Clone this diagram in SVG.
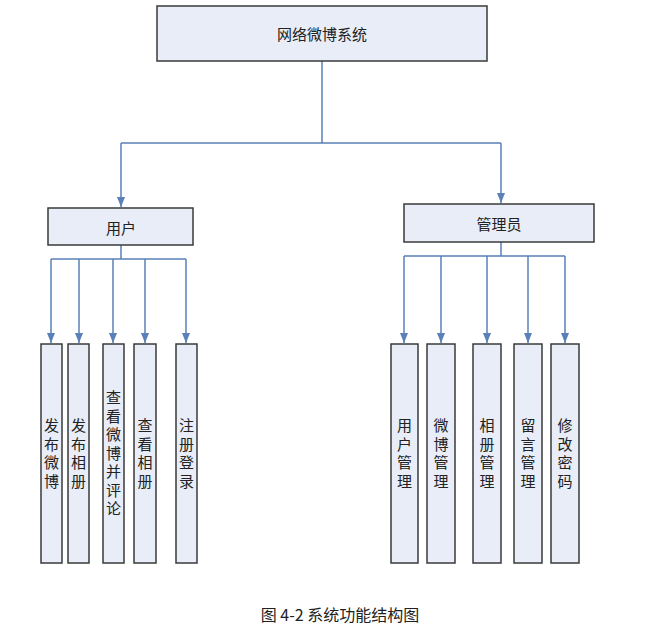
<svg xmlns="http://www.w3.org/2000/svg" width="664" height="636" viewBox="0 0 664 636">
<style>
.box{fill:#E8EDF7;stroke:#3a3a3a;stroke-width:1.5}
.lbl{font-family:"Noto Sans CJK SC","Liberation Sans",sans-serif;font-size:15px;fill:#222;text-anchor:middle;dominant-baseline:central}
.vl{font-family:"Noto Sans CJK SC","Liberation Sans",sans-serif;font-size:15px;fill:#222;text-anchor:middle;writing-mode:vertical-rl;letter-spacing:3.5px}
.con{fill:none;stroke:#5A80B8;stroke-width:1.5}
.cap{font-family:"Noto Sans CJK SC","Liberation Mono",monospace;font-size:16px;fill:#222;text-anchor:middle;dominant-baseline:central}
</style>
<defs>
<marker id="arr" markerUnits="userSpaceOnUse" markerWidth="10" markerHeight="10" viewBox="0 0 10 10" refX="10" refY="5" orient="auto">
<path d="M0,1 L10,5 L0,9 Z" fill="#5A80B8"/>
</marker>
</defs>
<rect width="664" height="636" fill="#fff"/>
<g id="connectors">
<path class="con" d="M322,61 V143 M121,143 H501"/>
<path class="con" d="M121,143 V207" marker-end="url(#arr)"/>
<path class="con" d="M501,143 V203" marker-end="url(#arr)"/>
<path class="con" d="M121,245 V259 M51,259 H186"/>
<path class="con" d="M51,259 V343" marker-end="url(#arr)"/>
<path class="con" d="M79,259 V343" marker-end="url(#arr)"/>
<path class="con" d="M113,259 V343" marker-end="url(#arr)"/>
<path class="con" d="M145,259 V343" marker-end="url(#arr)"/>
<path class="con" d="M186,259 V343" marker-end="url(#arr)"/>
<path class="con" d="M501,242 V256 M404,256 H565"/>
<path class="con" d="M404,256 V343" marker-end="url(#arr)"/>
<path class="con" d="M441,256 V343" marker-end="url(#arr)"/>
<path class="con" d="M487,256 V343" marker-end="url(#arr)"/>
<path class="con" d="M528,256 V343" marker-end="url(#arr)"/>
<path class="con" d="M565,256 V343" marker-end="url(#arr)"/>
</g>
<g id="root"><rect class="box" x="157" y="6" width="330" height="55"/><text class="lbl" x="322" y="33">网络微博系统</text></g>
<g id="user"><rect class="box" x="48" y="208" width="145" height="37"/><text class="lbl" x="121" y="227">用户</text></g>
<g id="admin"><rect class="box" x="404" y="204" width="190" height="38"/><text class="lbl" x="499" y="223">管理员</text></g>
<g id="u1"><rect class="box" x="41" y="344" width="21" height="219"/><text class="vl" x="51.5" y="455">发布微博</text></g>
<g id="u2"><rect class="box" x="68" y="344" width="21" height="219"/><text class="vl" x="78.5" y="455">发布相册</text></g>
<g id="u3"><rect class="box" x="103" y="344" width="21" height="219"/><text class="vl" x="113.5" y="455">查看微博并评论</text></g>
<g id="u4"><rect class="box" x="134" y="344" width="22" height="219"/><text class="vl" x="145" y="455">查看相册</text></g>
<g id="u5"><rect class="box" x="176" y="344" width="21" height="219"/><text class="vl" x="186.5" y="455">注册登录</text></g>
<g id="a1"><rect class="box" x="391" y="344" width="27" height="219"/><text class="vl" x="404.5" y="455">用户管理</text></g>
<g id="a2"><rect class="box" x="427" y="344" width="28" height="219"/><text class="vl" x="441" y="455">微博管理</text></g>
<g id="a3"><rect class="box" x="473" y="344" width="28" height="219"/><text class="vl" x="487" y="455">相册管理</text></g>
<g id="a4"><rect class="box" x="514" y="344" width="28" height="219"/><text class="vl" x="528" y="455">留言管理</text></g>
<g id="a5"><rect class="box" x="551" y="344" width="28" height="219"/><text class="vl" x="565" y="455">修改密码</text></g>
<text class="cap" x="340" y="614">图 4-2 系统功能结构图</text>
</svg>
